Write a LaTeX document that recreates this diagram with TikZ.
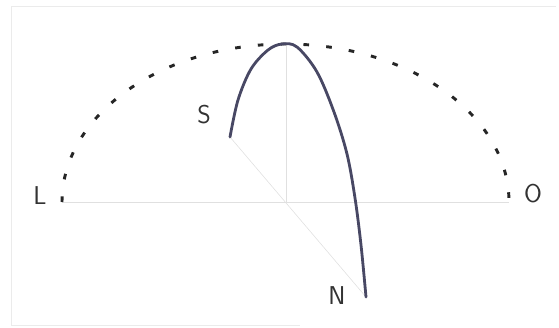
\documentclass[tikz,border=0pt]{standalone}
\usepackage{tikz}
\usetikzlibrary{calc}

\tikzset{
	pathline/.style={line width=2.4pt, color=pathcol, line cap=round},
	horizonline/.style={line width=0.5pt, color=black!12},
	dotarc/.style={line width=2.5pt, color=black!85, dash pattern=on 4.8pt off 14.7pt},
	letter/.style={font=\sffamily\fontsize{22}{26}\selectfont, text=black!80, inner sep=0pt}
}
\definecolor{pathcol}{RGB}{72,72,100}

\begin{document}
\begin{tikzpicture}[x=0.03cm, y=-0.03cm]
		
		\useasboundingbox (0,0) rectangle (559,327);
		
		% faint frame of the scan
		\draw [black!8, line width=0.5pt]  (556,6) -- (11,6) -- (11,325) -- (300,325);
		
		\coordinate (C) at (286,202);
		\coordinate (Lp) at (62,202);
		\coordinate (Op) at (509,202);
		\coordinate (Z) at (286,44);
		\coordinate (Sp) at (230,137);
		\coordinate (Np) at (366,297);
		
		% horizon, zenith line and meridian through the sun path
		\draw [horizonline]  (Lp) -- (Op);
		\draw [horizonline]  (C) -- (Z);
		\draw [horizonline]  (Sp) -- (Np);
		
		% dotted sky vault
		\draw [dotarc]  (Lp) arc[start angle=180, end angle=0, x radius=223.5, y radius=-158];
		
		% sun path
		\draw [pathline]  plot[smooth, tension=.55] coordinates {(230,137) (238,100) (251,69) (268,50) (282,44) (297,47) (317,72) (334,112) (347,154) (355,198) (361,245) (366,297) };
		
		\node[letter] (S) at (204,115) {S};
		\node[letter] (L) at (40,196) {L};
		\node[letter] (O) at (533,194) {O};
		\node[letter] (N) at (337,296) {N};
		
	\end{tikzpicture}
\end{document}
